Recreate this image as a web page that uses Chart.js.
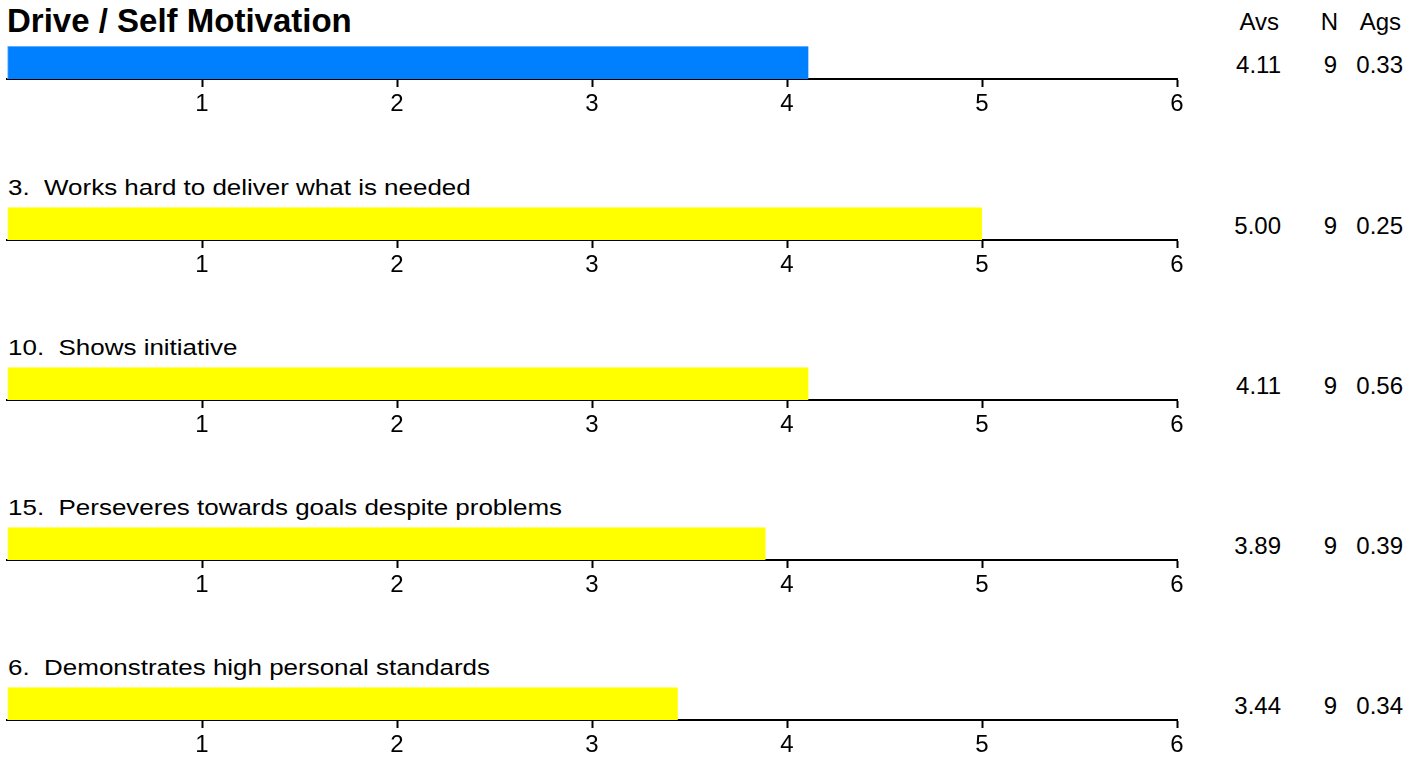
<!DOCTYPE html>
<html>
<head>
<meta charset="utf-8">
<script src="https://cdn.jsdelivr.net/npm/chart.js@4"></script>
<style>
  body { margin: 0; background: #fff; width: 1421px; height: 762px; overflow: hidden;
         font-family: "Liberation Sans", Arial, sans-serif; color: #000; }
  .panel { position: absolute; left: 0; width: 1190px; height: 73px; }
  .label { position: absolute; font-size: 22px; line-height: 25px; white-space: pre;
           transform: scaleX(1.18); transform-origin: 0 0; }
  .title { position: absolute; left: 7px; top: 4px; font-size: 33px; font-weight: bold; line-height: 34px; }
  .stat { position: absolute; font-size: 24px; line-height: 28px; text-align: right; width: 80px; }
</style>
</head>
<body>
<div id="root"></div>
<script>
const labels = [
  'Drive / Self Motivation',
  '3.  Works hard to deliver what is needed',
  '10.  Shows initiative',
  '15.  Perseveres towards goals despite problems',
  '6.  Demonstrates high personal standards'
];
const avs = [4.11, 5.00, 4.11, 3.89, 3.44];
const ns = [9, 9, 9, 9, 9];
const ags = [0.33, 0.25, 0.56, 0.39, 0.34];
const colHeads = ['Avs', 'N', 'Ags'];
const xTicks = [1, 2, 3, 4, 5, 6];

const BLUE = '#0080ff';
const YELLOW = '#ffff00';
const barTops = [46, 207, 367, 527, 687];

const root = document.getElementById('root');

function addText(cls, text, x, y) {
  const d = document.createElement('div');
  d.className = cls;
  d.textContent = text;
  d.style.left = x + 'px';
  d.style.top = y + 'px';
  root.appendChild(d);
  return d;
}

// column headers (right edges)
const headRight = [1279, 1338, 1401];
colHeads.forEach((h, i) => addText('stat', h, headRight[i] - 80, 8));

labels.forEach((lab, i) => {
  const top = barTops[i];
  if (i === 0) {
    const t = document.createElement('div');
    t.className = 'title';
    t.textContent = lab;
    root.appendChild(t);
  } else {
    addText('label', lab, 8, top - 32);
  }

  addText('stat', avs[i].toFixed(2), 1281 - 80, top + 5);
  addText('stat', String(ns[i]), 1337 - 80, top + 5);
  addText('stat', ags[i].toFixed(2), 1403 - 80, top + 5);

  const wrap = document.createElement('div');
  wrap.className = 'panel';
  wrap.style.top = top + 'px';
  const cv = document.createElement('canvas');
  wrap.appendChild(cv);
  root.appendChild(wrap);

  const isHead = i === 0;
  new Chart(cv, {
    type: 'bar',
    data: {
      labels: [''],
      datasets: [{
        data: [avs[i]],
        backgroundColor: isHead ? BLUE : YELLOW,
        borderColor: isHead ? '#80bfff' : '#ffff99',
        borderWidth: { top: 1, left: 1, right: 0, bottom: 0 },
        borderSkipped: false,
        barPercentage: 1,
        categoryPercentage: 1
      }]
    },
    options: {
      indexAxis: 'y',
      responsive: true,
      maintainAspectRatio: false,
      animation: false,
      layout: { padding: { left: 7, right: 13, top: 0, bottom: 0 } },
      plugins: { legend: { display: false }, tooltip: { enabled: false } },
      scales: {
        x: {
          min: 0,
          max: 6,
          afterFit(scale) { scale.height = 40; },
          afterBuildTicks(scale) { scale.ticks = [0].concat(xTicks).map(v => ({ value: v })); },
          ticks: {
            color: '#000',
            padding: 3,
            font: { family: 'Liberation Sans', size: 24 },
            callback: v => (v === 0 ? '' : v)
          },
          grid: {
            drawOnChartArea: false,
            tickLength: 8,
            tickWidth: 2,
            color: ctx => (ctx.tick && ctx.tick.value === 0 ? 'rgba(0,0,0,0)' : '#000')
          },
          border: { display: true, color: '#000', width: 2 }
        },
        y: { display: false }
      }
    }
  });
});
</script>
</body>
</html>
